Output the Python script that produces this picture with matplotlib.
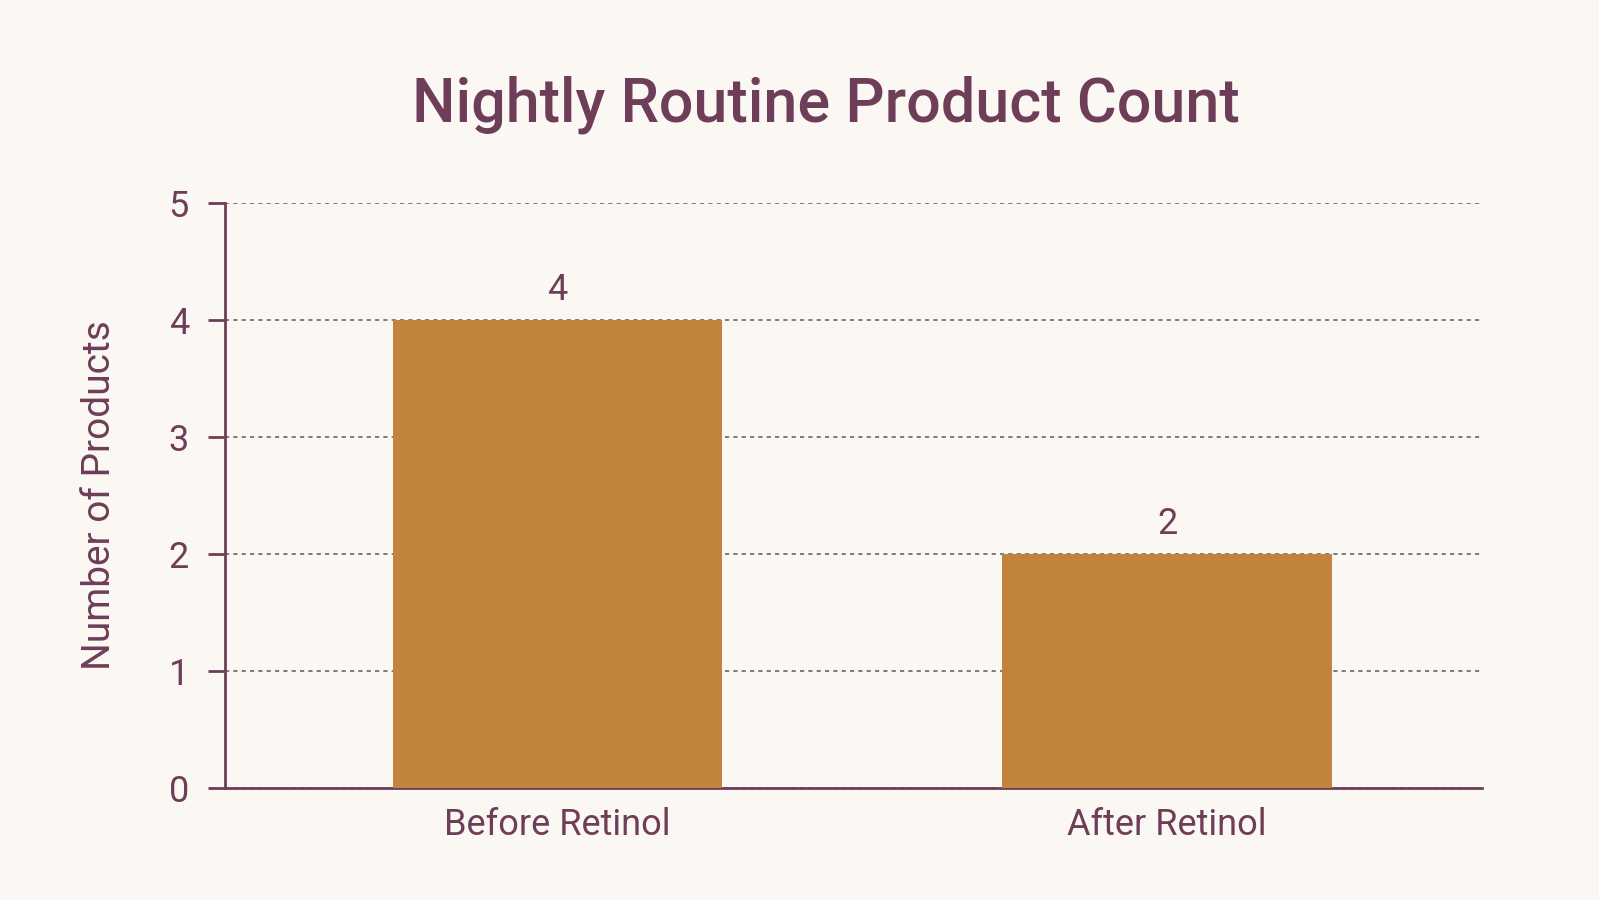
import matplotlib.pyplot as plt

categories = ["Before Retinol", "After Retinol"]
counts = [4, 2]
y_ticks = [0, 1, 2, 3, 4, 5]

BG = "#FBF8F3"
BAR = "#C2843C"
INK = "#6E3E58"

plt.rcParams['font.family'] = ['Roboto', 'DejaVu Sans']

fig = plt.figure(figsize=(15.99, 9), dpi=100, facecolor=BG)
ax = fig.add_axes([0.1407, 0.1244, 0.786, 0.65])
ax.set_facecolor(BG)

x = list(range(len(categories)))
ax.bar(x, counts, width=0.54, color=BAR, zorder=3)

for xi, v in zip(x, counts):
    ax.text(xi, v + 0.1, str(v), ha="center", va="bottom", fontsize=26, color=INK, zorder=4)

ax.set_xlim(-0.545, 1.516)
ax.set_ylim(0, 5)
ax.set_yticks(y_ticks)
ax.set_xticks(x)
ax.set_xticklabels(categories)

ax.grid(axis="y", linestyle=(0, (2.5, 2.5)), color="#666666", linewidth=1.2, zorder=1)
ax.set_axisbelow(True)

for side in ["top", "right"]:
    ax.spines[side].set_visible(False)
for side in ["left", "bottom"]:
    ax.spines[side].set_color(INK)
    ax.spines[side].set_linewidth(2)

ax.tick_params(axis="y", colors=INK, labelsize=26, length=12, width=2, pad=14)
ax.tick_params(axis="x", colors=INK, labelsize=26, length=0, pad=14)

ax.set_ylabel("Number of Products", fontsize=28, color=INK, labelpad=36)

fig.text(0.5165, 0.884, "Nightly Routine Product Count", ha="center", va="center",
         fontsize=44, fontweight="medium", color=INK)

fig.savefig("out.png", dpi=100, facecolor=BG)
